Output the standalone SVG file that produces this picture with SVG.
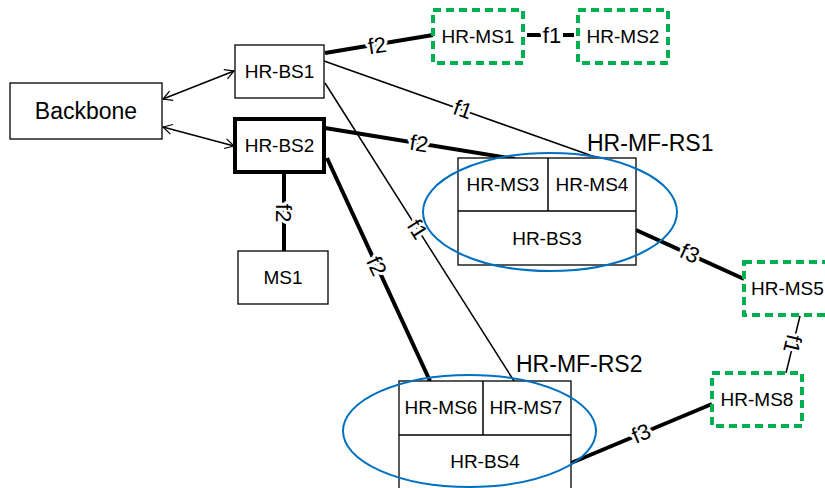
<svg xmlns="http://www.w3.org/2000/svg" width="825" height="488" viewBox="0 0 825 488">
<defs>
<style>
text{font-family:"Liberation Sans",Arial,sans-serif;fill:#000}
.box{fill:#fff;stroke:#000;stroke-width:1.3}
.bold{fill:#fff;stroke:#000;stroke-width:4}
.ms{fill:#fff;stroke:#00b050;stroke-width:4;stroke-dasharray:8,5}
.ell{fill:none;stroke:#0070c0;stroke-width:2}
.t{font-size:19px;text-anchor:middle}
.big{font-size:23px}
.thin{stroke:#000;stroke-width:1.5;fill:none}
.thick{stroke:#000;stroke-width:4;fill:none}
.lbl{font-size:22px;text-anchor:middle;paint-order:stroke;stroke:#fff;stroke-width:6px;stroke-linejoin:round}
</style>
<marker id="ah" markerWidth="12" markerHeight="12" refX="10" refY="6" orient="auto-start-reverse" markerUnits="userSpaceOnUse">
<path d="M1,1 L10,6 L1,11" fill="none" stroke="#000" stroke-width="1.2"/>
</marker>
</defs>
<rect width="825" height="488" fill="#fff"/>

<g id="connectors">
<line class="thin" x1="163" y1="99" x2="234" y2="71" marker-start="url(#ah)" marker-end="url(#ah)"/>
<line class="thin" x1="163" y1="127" x2="234" y2="146" marker-start="url(#ah)" marker-end="url(#ah)"/>
<line class="thick" x1="325" y1="53" x2="433" y2="35"/>
<text class="lbl" transform="translate(377,45) rotate(-9)" y="8">f2</text>
<line class="thick" x1="527" y1="35" x2="541" y2="35" stroke-width="3"/>
<line class="thick" x1="563" y1="35" x2="574" y2="35" stroke-width="3"/>
<text class="lbl" x="552" y="43">f1</text>
<line class="thin" x1="324" y1="61" x2="598" y2="158"/>
<text class="lbl" transform="translate(463,109) rotate(19.5)" y="8">f1</text>
<line class="thin" x1="325" y1="83" x2="514" y2="381"/>
<text class="lbl" transform="translate(418,229) rotate(57.6)" y="8">f1</text>
<line class="thick" x1="325" y1="128" x2="515" y2="159"/>
<text class="lbl" transform="translate(419,143) rotate(9.3)" y="8">f2</text>
<line class="thick" x1="327" y1="158" x2="430" y2="381"/>
<text class="lbl" transform="translate(377,266) rotate(65)" y="8">f2</text>
<line class="thick" x1="284" y1="172" x2="284" y2="251"/>
<text class="lbl" transform="translate(284,213) rotate(90)" y="8">f2</text>
<line class="thick" x1="636" y1="230" x2="744" y2="279"/>
<text class="lbl" transform="translate(690,253) rotate(24.5)" y="8">f3</text>
<line class="thick" x1="571" y1="463" x2="712" y2="404"/>
<text class="lbl" transform="translate(641,433) rotate(-23)" y="8">f3</text>
<line class="thin" x1="800" y1="316" x2="786" y2="373" stroke-width="2.5"/>
<text class="lbl" transform="translate(793,344) rotate(104)" y="8">f1</text>
</g>

<g id="backbone">
<rect class="box" x="10" y="83" width="152" height="56"/>
<text class="t big" x="86" y="119">Backbone</text>
</g>
<g id="hr-bs1">
<rect class="box" x="235" y="45" width="89" height="53"/>
<text class="t" x="279.5" y="78">HR-BS1</text>
</g>
<g id="hr-bs2">
<rect class="bold" x="235" y="119" width="89" height="53"/>
<text class="t" x="279.5" y="152">HR-BS2</text>
</g>
<g id="ms1">
<rect class="box" x="238" y="251" width="90" height="53"/>
<text class="t" x="283" y="284">MS1</text>
</g>
<g id="hr-ms1">
<rect class="ms" x="433" y="10" width="90" height="53"/>
<text class="t" x="478" y="43">HR-MS1</text>
</g>
<g id="hr-ms2">
<rect class="ms" x="578" y="10" width="90" height="53"/>
<text class="t" x="623" y="43">HR-MS2</text>
</g>
<g id="hr-mf-rs1">
<rect class="box" x="458" y="158" width="178" height="107"/>
<line class="thin" x1="458" y1="211" x2="636" y2="211" stroke-width="1.3"/>
<line class="thin" x1="548" y1="158" x2="548" y2="211" stroke-width="1.3"/>
<text class="t" x="503" y="191">HR-MS3</text>
<text class="t" x="592" y="191">HR-MS4</text>
<text class="t" x="547" y="245">HR-BS3</text>
<text class="big" x="587" y="151">HR-MF-RS1</text>
<ellipse class="ell" cx="550" cy="212" rx="127" ry="59"/>
</g>
<g id="hr-mf-rs2">
<rect class="box" x="399" y="381" width="172" height="110"/>
<line class="thin" x1="399" y1="435" x2="571" y2="435" stroke-width="1.3"/>
<line class="thin" x1="483" y1="381" x2="483" y2="435" stroke-width="1.3"/>
<text class="t" x="441" y="414">HR-MS6</text>
<text class="t" x="526" y="414">HR-MS7</text>
<text class="t" x="485" y="468">HR-BS4</text>
<text class="big" x="516" y="372">HR-MF-RS2</text>
<ellipse class="ell" cx="469.5" cy="431" rx="126.5" ry="56"/>
</g>
<g id="hr-ms5">
<rect class="ms" x="744" y="262" width="92" height="53"/>
<text class="t" x="751" y="295" style="text-anchor:start">HR-MS5</text>
</g>
<g id="hr-ms8">
<rect class="ms" x="712" y="373" width="90" height="53"/>
<text class="t" x="757" y="406">HR-MS8</text>
</g>
</svg>
